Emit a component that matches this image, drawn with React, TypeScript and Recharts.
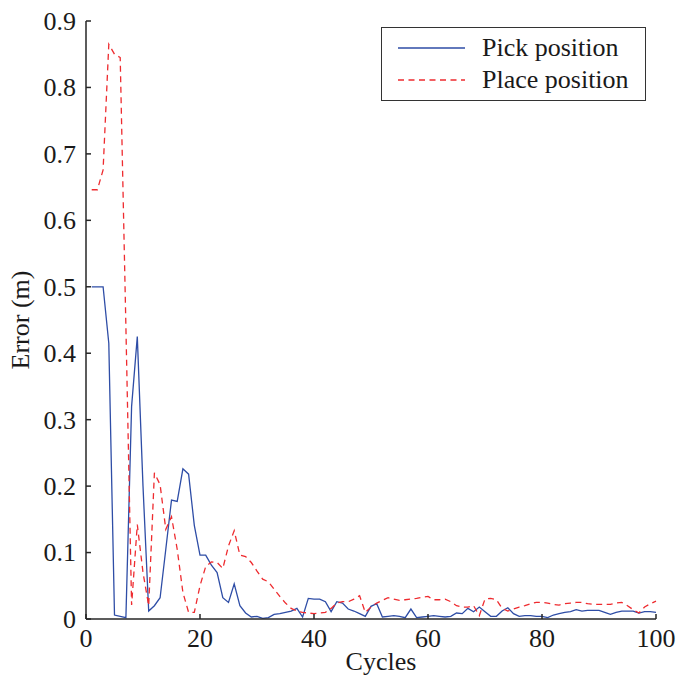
import { LineChart, Line, XAxis, YAxis, Label } from 'recharts';

const cycles = [
  1, 2, 3, 4, 5, 6, 7, 8, 9, 10, 11, 12, 13, 14, 15, 16, 17, 18, 19, 20,
  21, 22, 23, 24, 25, 26, 27, 28, 29, 30, 31, 32, 33, 34, 35, 36, 37, 38, 39, 40,
  41, 42, 43, 44, 45, 46, 47, 48, 49, 50, 51, 52, 53, 54, 55, 56, 57, 58, 59, 60,
  61, 62, 63, 64, 65, 66, 67, 68, 69, 70, 71, 72, 73, 74, 75, 76, 77, 78, 79, 80,
  81, 82, 83, 84, 85, 86, 87, 88, 89, 90, 91, 92, 93, 94, 95, 96, 97, 98, 99, 100,
];

const pickError = [
  0.5, 0.5, 0.5, 0.415, 0.006, 0.004, 0.002, 0.32, 0.425, 0.2,
  0.012, 0.02, 0.032, 0.105, 0.179, 0.177, 0.226, 0.218, 0.141, 0.096,
  0.096, 0.081, 0.07, 0.032, 0.025, 0.053, 0.02, 0.009, 0.003, 0.004,
  0.001, 0.002, 0.007, 0.008, 0.01, 0.012, 0.016, 0.003, 0.031, 0.03,
  0.03, 0.026, 0.011, 0.026, 0.024, 0.015, 0.012, 0.008, 0.004, 0.019,
  0.023, 0.003, 0.004, 0.005, 0.004, 0.002, 0.015, 0.002, 0.003, 0.004,
  0.005, 0.004, 0.003, 0.004, 0.009, 0.008, 0.016, 0.011, 0.018, 0.011,
  0.004, 0.004, 0.012, 0.017, 0.008, 0.004, 0.005, 0.005, 0.004, 0.004,
  0.002, 0.006, 0.008, 0.01, 0.011, 0.014, 0.012, 0.013, 0.013, 0.013,
  0.01, 0.007, 0.01, 0.012, 0.012, 0.012, 0.009, 0.011, 0.011, 0.01,
];

const placeError = [
  0.646, 0.646, 0.676, 0.865, 0.85, 0.845, 0.44, 0.021, 0.142, 0.07,
  0.02, 0.22, 0.202, 0.135, 0.154, 0.105, 0.04, 0.01, 0.01, 0.05,
  0.079, 0.086, 0.085, 0.076, 0.11, 0.133, 0.096, 0.094, 0.085, 0.072,
  0.06, 0.056, 0.045, 0.034, 0.024, 0.016, 0.012, 0.01, 0.009, 0.008,
  0.009, 0.01, 0.016, 0.024, 0.026, 0.026, 0.03, 0.035, 0.01, 0.018,
  0.024, 0.028, 0.032, 0.03, 0.028, 0.029, 0.03, 0.031, 0.033, 0.034,
  0.029, 0.029, 0.03, 0.026, 0.02, 0.018, 0.018, 0.02, 0.005, 0.03,
  0.031, 0.029, 0.016, 0.012, 0.015, 0.018, 0.02, 0.023, 0.025, 0.025,
  0.024, 0.022, 0.021, 0.023, 0.024, 0.025, 0.025, 0.023, 0.022, 0.022,
  0.022, 0.022, 0.024, 0.025, 0.02, 0.014, 0.009, 0.018, 0.023, 0.027,
];

const seriesNames = ['Pick position', 'Place position'];
const xTicks = [0, 20, 40, 60, 80, 100];
const yTicks = [0, 0.1, 0.2, 0.3, 0.4, 0.5, 0.6, 0.7, 0.8, 0.9];

const data = cycles.map((c, i) => ({ cycle: c, pick: pickError[i], place: placeError[i] }));

const FONT = '"Liberation Serif", "Times New Roman", serif';
const AXIS = '#262626';
const BLUE = '#2e4da6';
const RED = '#ee2b2f';

const fmtY = (v: number) => (v === 0 ? '0' : String(Number(v.toFixed(1))));

// ticks point inward, like the original figure
function XTick(props: any) {
  const { x, y, payload } = props;
  return (
    <g>
      <line x1={x} x2={x} y1={y - 8} y2={y - 13} stroke={AXIS} strokeWidth={1.5} />
      <text x={x} y={y} dy="0.75em" textAnchor="middle" fill="#1a1a1a" fontSize={26} fontFamily={FONT}>
        {payload.value}
      </text>
    </g>
  );
}

function YTick(props: any) {
  const { x, y, payload } = props;
  return (
    <g>
      <line x1={x + 10} x2={x + 15} y1={y} y2={y} stroke={AXIS} strokeWidth={1.5} />
      <text x={x} y={y} dy="0.34em" textAnchor="end" fill="#1a1a1a" fontSize={26} fontFamily={FONT}>
        {fmtY(payload.value)}
      </text>
    </g>
  );
}

function LegendBox() {
  const row = { display: 'flex', alignItems: 'center', height: 32 };
  return (
    <div
      style={{
        position: 'absolute',
        left: 381,
        top: 27,
        width: 263,
        height: 68,
        border: '1.5px solid #333',
        background: '#fff',
        fontFamily: FONT,
        fontSize: 26,
        color: '#1a1a1a',
        paddingTop: 4,
      }}
    >
      <div style={row}>
        <svg width={84} height={10} style={{ marginLeft: 16 }}>
          <line x1={0} x2={67} y1={5} y2={5} stroke={BLUE} strokeWidth={1.3} />
        </svg>
        <span style={{ lineHeight: '32px' }}>{seriesNames[0]}</span>
      </div>
      <div style={row}>
        <svg width={84} height={10} style={{ marginLeft: 16 }}>
          <line x1={0} x2={67} y1={5} y2={5} stroke={RED} strokeWidth={1.3} strokeDasharray="6 4.5" />
        </svg>
        <span style={{ lineHeight: '32px' }}>{seriesNames[1]}</span>
      </div>
    </div>
  );
}

export default function App() {
  return (
    <div style={{ position: 'absolute', left: 0, top: 0, width: 685, height: 679, background: '#fff' }}>
      <LineChart width={685} height={679} data={data} margin={{ top: 21, right: 29, bottom: 0, left: 0 }}>
        <XAxis
          dataKey="cycle"
          type="number"
          domain={[0, 100]}
          ticks={xTicks}
          height={60}
          tickSize={0}
          tickMargin={8}
          tick={<XTick />}
          tickLine={false}
          axisLine={{ stroke: AXIS, strokeWidth: 1.5 }}
          interval={0}
        >
          <Label
            value="Cycles"
            position="insideBottom"
            offset={9}
            dx={10}
            fontSize={26}
            fontFamily={FONT}
            fill="#1a1a1a"
          />
        </XAxis>
        <YAxis
          type="number"
          domain={[0, 0.9]}
          ticks={yTicks}
          width={86}
          tickSize={0}
          tickMargin={10}
          tick={<YTick />}
          tickLine={false}
          axisLine={{ stroke: AXIS, strokeWidth: 1.5 }}
          interval={0}
        >
          <Label
            value="Error (m)"
            angle={-90}
            position="insideLeft"
            offset={20}
            style={{ textAnchor: 'middle' }}
            fontSize={26}
            fontFamily={FONT}
            fill="#1a1a1a"
          />
        </YAxis>
        <Line
          dataKey="pick"
          name={seriesNames[0]}
          stroke={BLUE}
          strokeWidth={1.3}
          dot={false}
          type="linear"
          isAnimationActive={false}
        />
        <Line
          dataKey="place"
          name={seriesNames[1]}
          stroke={RED}
          strokeWidth={1.3}
          strokeDasharray="6 4.5"
          dot={false}
          type="linear"
          isAnimationActive={false}
        />
      </LineChart>
      <LegendBox />
    </div>
  );
}
